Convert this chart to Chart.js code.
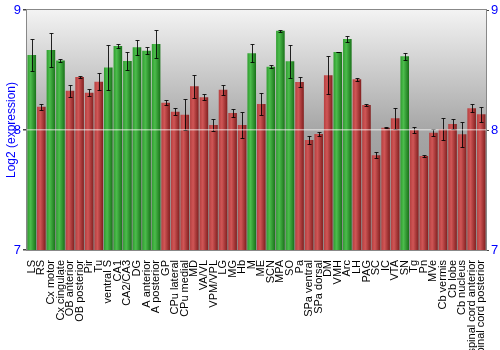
<!DOCTYPE html>
<html>
<head>
<meta charset="utf-8">
<script src="https://cdn.jsdelivr.net/npm/chart.js@4"></script>
<style>
  html, body { margin: 0; background: #fff; }
  #wrap { width: 500px; height: 350px; }
</style>
</head>
<body>
<div id="wrap"><canvas id="chart"></canvas></div>
<script>
// Brain regions along the x axis
const regions = [
    'LS', 'RS', 'Cx motor', 'Cx cingulate', 'OB anterior', 'OB posterior', 'Pir', 'Tu',
    'ventral S', 'CA1', 'CA2/CA3', 'DG', 'A anterior', 'A posterior', 'GP', 'CPu lateral',
    'CPu medial', 'MD', 'VA/VL', 'VPM/VPL', 'LG', 'MG', 'Hb', 'M',
    'ME', 'SCN', 'MPA', 'SO', 'Pa', 'SPa ventral', 'SPa dorsal', 'DM',
    'VMH', 'Arc', 'LH', 'PAG', 'SC', 'IC', 'VTA', 'SN',
    'Tg', 'Pn', 'MVe', 'Cb vermis', 'Cb lobe', 'Cb nucleus', 'spinal cord anterior', 'spinal cord posterior'
];

// Mean log2 expression per region
const expression = [
    8.625, 8.194, 8.667, 8.580, 8.328, 8.442, 8.311, 8.403,
    8.520, 8.700, 8.575, 8.690, 8.660, 8.717, 8.228, 8.153,
    8.128, 8.364, 8.272, 8.042, 8.336, 8.142, 8.042, 8.639,
    8.217, 8.528, 8.828, 8.572, 8.400, 7.917, 7.967, 8.456,
    8.650, 8.758, 8.422, 8.208, 7.789, 8.019, 8.097, 8.614,
    8.000, 7.783, 7.978, 8.006, 8.050, 7.964, 8.181, 8.131
];

// Error (+/-) per region
const errors = [
    0.130, 0.025, 0.140, 0.014, 0.050, 0.010, 0.027, 0.070,
    0.190, 0.020, 0.078, 0.062, 0.030, 0.115, 0.018, 0.032,
    0.127, 0.096, 0.026, 0.047, 0.043, 0.035, 0.105, 0.075,
    0.094, 0.010, 0.008, 0.140, 0.044, 0.036, 0.015, 0.157,
    0.003, 0.028, 0.011, 0.010, 0.024, 0.004, 0.088, 0.029,
    0.024, 0.012, 0.029, 0.092, 0.043, 0.104, 0.035, 0.061
];

// Regions drawn in green, all others red
const greenRegions = [
    'LS', 'Cx motor', 'Cx cingulate', 'ventral S', 'CA1', 'CA2/CA3', 'DG',
    'A anterior', 'A posterior', 'M', 'SCN', 'MPA', 'SO', 'VMH', 'Arc', 'SN'
];

const yTicks = [7, 8, 9];

const FONT = "'Liberation Sans', Arial, sans-serif";
const BLUE = '#0000ff';

// horizontal shading across each bar
function barFill(context) {
    const chart = context.chart;
    if (!chart.chartArea) return '#888';
    const bar = context.element;
    const w = bar && bar.width ? bar.width : 8;
    const cx = chart.scales.x.getPixelForValue(context.dataIndex);
    const g = chart.ctx.createLinearGradient(cx - w / 2, 0, cx + w / 2, 0);
    if (greenRegions.includes(regions[context.dataIndex])) {
        g.addColorStop(0, '#32a032');
        g.addColorStop(0.35, '#4cbc4c');
        g.addColorStop(1, '#1c761c');
    } else {
        g.addColorStop(0, '#b84242');
        g.addColorStop(0.35, '#d05656');
        g.addColorStop(1, '#862222');
    }
    return g;
}

// grey backdrop behind the bars
const backdropPlugin = {
    id: 'backdrop',
    beforeDatasetsDraw(chart) {
        const { ctx, chartArea: a } = chart;
        const g = ctx.createLinearGradient(0, a.top, 0, a.bottom);
        g.addColorStop(0, '#f3f3f3');
        g.addColorStop(0.5, '#a6a6a6');
        g.addColorStop(1, '#8c8c8c');
        ctx.save();
        ctx.fillStyle = g;
        ctx.fillRect(a.left, a.top, a.right - a.left, a.bottom - a.top);
        ctx.restore();
    },
    afterDraw(chart) {
        const { ctx, chartArea: a } = chart;
        ctx.save();
        ctx.strokeStyle = '#888';
        ctx.lineWidth = 1;
        ctx.strokeRect(Math.round(a.left) - 0.5, Math.round(a.top) - 0.5,
            Math.round(a.right - a.left) + 1, Math.round(a.bottom - a.top) + 1);
        ctx.restore();
    }
};

// error bars with caps
const errorBarPlugin = {
    id: 'errorBars',
    afterDatasetsDraw(chart) {
        const meta = chart.getDatasetMeta(0);
        const y = chart.scales.y;
        const ctx = chart.ctx;
        ctx.save();
        ctx.strokeStyle = 'rgba(0,0,0,0.85)';
        ctx.lineWidth = 1;
        meta.data.forEach((bar, i) => {
            const top = Math.round(y.getPixelForValue(expression[i] + errors[i])) + 0.5;
            const bot = Math.round(y.getPixelForValue(expression[i] - errors[i])) + 0.5;
            const x = Math.round(bar.x) + 0.5;
            ctx.beginPath();
            ctx.moveTo(x, top);
            ctx.lineTo(x, bot);
            ctx.moveTo(x - 2, top);
            ctx.lineTo(x + 2, top);
            ctx.moveTo(x - 2, bot);
            ctx.lineTo(x + 2, bot);
            ctx.stroke();
        });
        ctx.restore();
    }
};

new Chart(document.getElementById('chart'), {
    type: 'bar',
    data: {
        labels: regions,
        datasets: [{
            data: expression,
            backgroundColor: barFill,
            borderWidth: 0,
            barPercentage: 0.9,
            categoryPercentage: 1.0
        }]
    },
    options: {
        responsive: true,
        maintainAspectRatio: false,
        animation: false,
        layout: { padding: { top: 10 } },
        plugins: {
            legend: { display: false },
            tooltip: { enabled: false }
        },
        scales: {
            x: {
                grid: { display: false },
                border: { display: false },
                ticks: {
                    autoSkip: false,
                    maxRotation: 90,
                    minRotation: 90,
                    padding: 2,
                    color: '#000',
                    font: { family: FONT, size: 11 }
                },
                afterFit(scale) { scale.height = 100; }
            },
            y: {
                min: 7,
                max: 9,
                afterBuildTicks(scale) { scale.ticks = yTicks.map(v => ({ value: v })); },
                ticks: {
                    color: BLUE,
                    padding: 2,
                    font: { family: FONT, size: 13 }
                },
                grid: {
                    z: 1,
                    tickLength: 4,
                    tickColor: '#444',
                    lineWidth: 1.5,
                    color: ctx => ctx.tick && ctx.tick.value === 8 ? 'rgba(255,255,255,0.5)' : 'rgba(0,0,0,0)'
                },
                border: { display: false },
                title: {
                    display: true,
                    text: 'Log2 (expression)',
                    color: BLUE,
                    padding: { top: 4, bottom: 0 },
                    font: { family: FONT, size: 12 }
                },
                afterFit(scale) { scale.width = 27; }
            },
            y2: {
                position: 'right',
                min: 7,
                max: 9,
                afterBuildTicks(scale) { scale.ticks = yTicks.map(v => ({ value: v })); },
                ticks: {
                    color: BLUE,
                    padding: 2,
                    font: { family: FONT, size: 13 }
                },
                grid: { drawOnChartArea: false, tickLength: 3, tickColor: '#444' },
                border: { display: false },
                afterFit(scale) { scale.width = 14; }
            }
        }
    },
    plugins: [backdropPlugin, errorBarPlugin]
});
</script>
</body>
</html>
